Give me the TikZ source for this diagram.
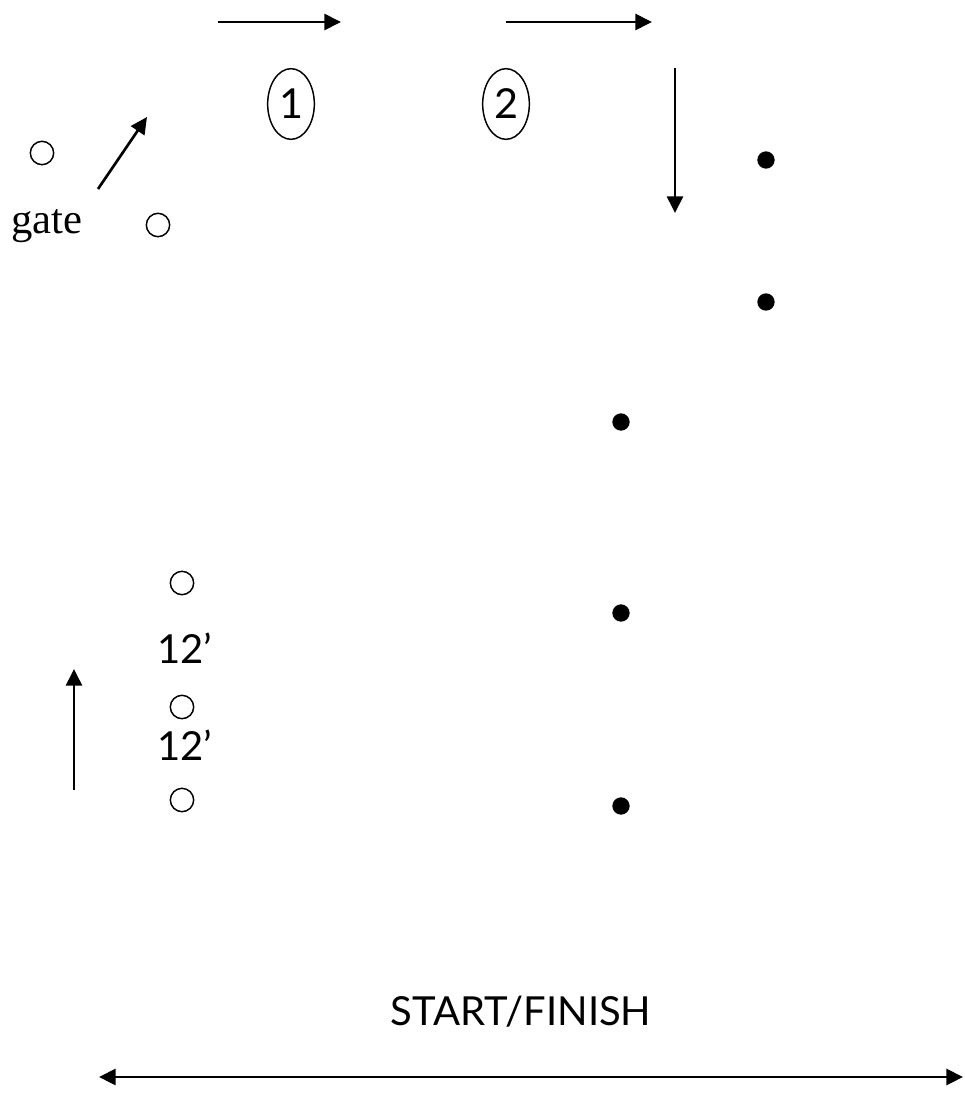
\documentclass[tikz,border=0pt]{standalone}
\usepackage{fontspec}
\setmainfont{Lato}
\newfontfamily\gateserif{Liberation Serif}
\usetikzlibrary{shapes.geometric, arrows.meta}

\begin{document}
\begin{tikzpicture}[
  x=0.75pt, y=-0.75pt,
  arr/.style    = {-{Triangle[length=12.5pt, width=12pt]}, line width=2pt},
  arrB/.style   = {{Triangle[length=12.5pt, width=12pt]}-{Triangle[length=12.5pt, width=12pt]},
                   line width=2.2pt},
  cone/.style   = {draw, circle, line width=1.1pt,
                   minimum size=17.5pt, inner sep=0pt},
  plyr/.style   = {fill, circle, minimum size=13pt, inner sep=0pt},
  num/.style    = {draw, ellipse, line width=1.1pt,
                   minimum width=35pt, minimum height=53pt, inner sep=0pt,
                   font=\fontsize{31}{33}\selectfont},
  lbl/.style    = {anchor=base, inner sep=0pt,
                   font=\fontsize{30}{32}\selectfont}
]
\useasboundingbox (0,0) rectangle (964,1099);

%── Hütchen (offen) ──────────────────────────────────────────────────────
\node[cone] (c_top1) at (42,153) {};
\node[cone] (c_top2) at (158,225) {};
\node[cone] (c_low1) at (182,583) {};
\node[cone] (c_low2) at (182,707) {};
\node[cone] (c_low3) at (182,800) {};

%── Spieler (gefüllt) ────────────────────────────────────────────────────
\node[plyr] (p1) at (766,160) {};
\node[plyr] (p2) at (766,302) {};
\node[plyr] (p3) at (621,422) {};
\node[plyr] (p4) at (621,613) {};
\node[plyr] (p5) at (621,806) {};

%── Stationen ────────────────────────────────────────────────────────────
\node[num] (st1) at (291,104) {1};
\node[num] (st2) at (506,104) {2};

%── Beschriftungen ───────────────────────────────────────────────────────
\node[lbl, font=\gateserif\fontsize{32}{34}\selectfont] (gate) at (47,233) {gate};
\node[lbl] (dist1) at (185,663) {12’};
\node[lbl] (dist2) at (185,760) {12’};
\node[lbl] (start) at (521,1025) {START/FINISH};

%── Laufrichtung ─────────────────────────────────────────────────────────
\coordinate (g_a) at (98,189);    \coordinate (g_b) at (147,117);
\coordinate (t1_a) at (218,22);   \coordinate (t1_b) at (341,22);
\coordinate (t2_a) at (506,22);   \coordinate (t2_b) at (652,22);
\coordinate (d_a) at (675,68);    \coordinate (d_b) at (675,213);
\coordinate (u_a) at (74,790);    \coordinate (u_b) at (74,669);
\coordinate (sf_l) at (99,1077);  \coordinate (sf_r) at (963,1077);

\draw[arr] (g_a) -- (g_b);
\draw[arr] (t1_a) -- (t1_b);
\draw[arr] (t2_a) -- (t2_b);
\draw[arr] (d_a) -- (d_b);
\draw[arr] (u_a) -- (u_b);
\draw[arrB] (sf_l) -- (sf_r);

\end{tikzpicture}
\end{document}
